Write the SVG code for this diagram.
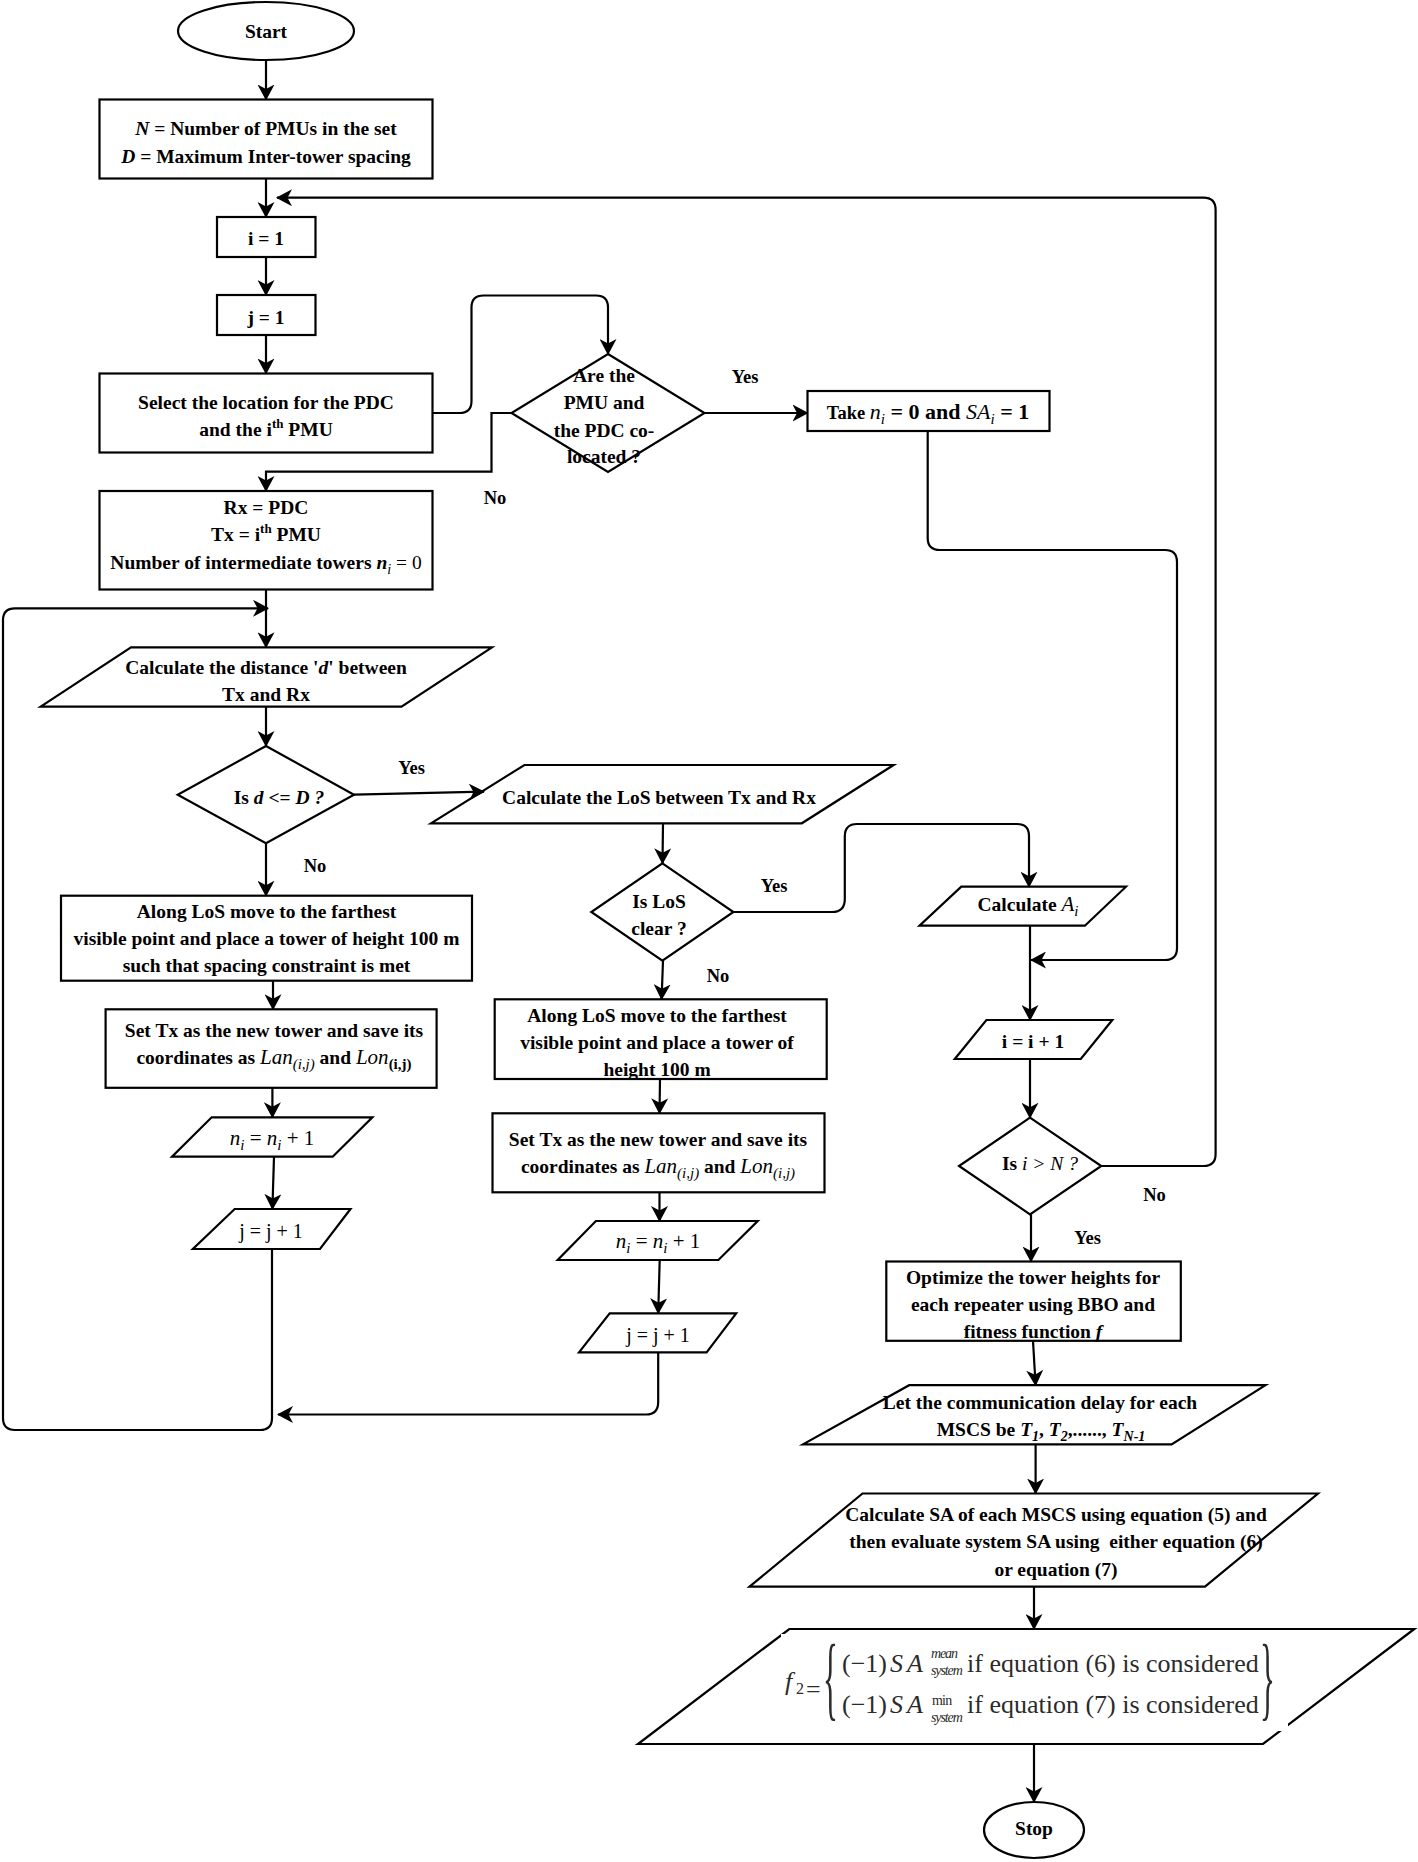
<svg xmlns="http://www.w3.org/2000/svg" width="1418" height="1862" viewBox="0 0 1418 1862">
<style>
.n{fill:#fff;stroke:#000;stroke-width:2.2}
.t{font-family:'Liberation Serif','Times New Roman',serif;font-size:19.5px;font-weight:bold;text-anchor:middle;fill:#000}
.l{font-family:'Liberation Serif','Times New Roman',serif;font-size:18.5px;font-weight:bold;text-anchor:middle;fill:#000}
.c{fill:none;stroke:#000;stroke-width:2.2;marker-end:url(#arr)}
.it{font-style:italic}
.nw{font-weight:normal}
.eq{font-family:'Liberation Serif','Times New Roman',serif;fill:#2b2b2b}
.sc{font-size:14px;font-style:italic;letter-spacing:-1.1px}
</style>
<defs>
<marker id="arr" viewBox="0 0 16 17" refX="15" refY="8.5" markerWidth="16" markerHeight="17" markerUnits="userSpaceOnUse" orient="auto">
<path d="M0,0 L16,8.5 L0,17 L4.5,8.5 Z" fill="#000"/>
</marker>
</defs>
<rect width="1418" height="1862" fill="#fff"/>

<g id="start"><ellipse class="n" cx="266" cy="31" rx="88" ry="29"/><text class="t" x="266" y="38">Start</text></g>

<g id="init"><rect class="n" x="99.5" y="99.5" width="333" height="79"/>
<text class="t" x="266" y="135"><tspan class="it">N</tspan> = Number of PMUs in the set</text>
<text class="t" x="266" y="163"><tspan class="it">D</tspan> = Maximum Inter-tower spacing</text></g>

<g id="i1"><rect class="n" x="217" y="217" width="98.5" height="40"/><text class="t" x="266" y="245">i = 1</text></g>
<g id="j1"><rect class="n" x="217" y="295" width="98.5" height="40"/><text class="t" x="266" y="324">j = 1</text></g>

<g id="select"><rect class="n" x="99.5" y="373.5" width="333" height="79"/>
<text class="t" x="266" y="409">Select the location for the PDC</text>
<text class="t" x="266" y="436">and the i<tspan dy="-8" style="font-size:13px">th</tspan><tspan dy="8"> PMU</tspan></text></g>

<g id="colocated"><polygon class="n" points="608,354 704.5,413 608,472 511.5,413"/>
<text class="t" x="604" y="382">Are the</text>
<text class="t" x="604" y="409">PMU and</text>
<text class="t" x="604" y="437">the PDC co-</text>
<text class="t" x="604" y="463">located ?</text></g>

<g id="take"><rect class="n" x="807.5" y="391" width="242" height="40"/>
<text class="t" x="928" y="419"><tspan style="font-size:18.5px">Take </tspan><tspan class="it nw" style="font-size:22px">n</tspan><tspan class="it nw" style="font-size:15px" dy="5">i</tspan><tspan style="font-size:22px" dy="-5"> = 0 and </tspan><tspan class="it nw" style="font-size:22px">SA</tspan><tspan class="it nw" style="font-size:15px" dy="5">i</tspan><tspan style="font-size:22px" dy="-5"> = 1</tspan></text></g>

<g id="rxtx"><rect class="n" x="99.5" y="491" width="333" height="98.5"/>
<text class="t" x="266" y="514">Rx = PDC</text>
<text class="t" x="266" y="541">Tx = i<tspan dy="-8" style="font-size:13px">th</tspan><tspan dy="8"> PMU</tspan></text>
<text class="t" x="266" y="569">Number of intermediate towers <tspan class="it">n</tspan><tspan class="it nw" style="font-size:14px" dy="5">i</tspan><tspan class="nw" dy="-5"> = 0</tspan></text></g>

<g id="calcd"><polygon class="n" points="131,647.3 492,647.3 401.5,706.7 40.7,706.7"/>
<text class="t" x="266" y="674">Calculate the distance '<tspan class="it">d</tspan>' between</text>
<text class="t" x="266" y="701">Tx and Rx</text></g>

<g id="isd"><polygon class="n" points="266,746 354,794.7 266,843.3 177.7,794.7"/>
<text class="t" x="279" y="804">Is <tspan class="it">d</tspan> &lt;= <tspan class="it">D ?</tspan></text></g>

<g id="los"><polygon class="n" points="524.4,765 893.6,765 801.8,823.3 431,823.3"/>
<text class="t" x="659" y="804">Calculate the LoS between Tx and Rx</text></g>

<g id="losclear"><polygon class="n" points="662.4,863.3 733.4,912 662.4,960.7 591.3,912"/>
<text class="t" x="659" y="908">Is LoS</text>
<text class="t" x="659" y="935">clear ?</text></g>

<g id="along1"><rect class="n" x="61" y="895.7" width="411" height="85"/>
<text class="t" x="266.5" y="918">Along LoS move to the farthest</text>
<text class="t" x="266.5" y="945">visible point and place a tower of height 100 m</text>
<text class="t" x="266.5" y="972">such that spacing constraint is met</text></g>

<g id="set1"><rect class="n" x="105.6" y="1009.3" width="331" height="78.5"/>
<text class="t" x="274" y="1037">Set Tx as the new tower and save its</text>
<text class="t" x="274" y="1064">coordinates as <tspan class="it nw" style="font-size:21px">Lan</tspan><tspan class="it nw" style="font-size:15px" dy="5">(i,j)</tspan><tspan dy="-5"> and </tspan><tspan class="it nw" style="font-size:21px">Lon</tspan><tspan style="font-size:15px" dy="5">(i,j)</tspan></text></g>

<g id="ni1"><polygon class="n" points="211.7,1117.3 372.4,1117.3 332.7,1156.7 172,1156.7"/>
<text class="t nw" x="272" y="1145" style="font-size:21px"><tspan class="it">n</tspan><tspan class="it" style="font-size:15px" dy="5">i</tspan><tspan dy="-5"> = </tspan><tspan class="it">n</tspan><tspan class="it" style="font-size:15px" dy="5">i</tspan><tspan dy="-5"> + 1</tspan></text></g>

<g id="jj1"><polygon class="n" points="234.7,1209 350.5,1209 320,1249 192.9,1249"/>
<text class="t nw" x="271" y="1238" style="font-size:20px">j = j + 1</text></g>

<g id="along2"><rect class="n" x="494.7" y="999.3" width="332" height="79.7"/>
<text class="t" x="657" y="1022">Along LoS move to the farthest</text>
<text class="t" x="657" y="1049">visible point and place a tower of</text>
<text class="t" x="657" y="1076">height 100 m</text></g>

<g id="set2"><rect class="n" x="492.5" y="1113.3" width="332" height="79"/>
<text class="t" x="658" y="1146">Set Tx as the new tower and save its</text>
<text class="t" x="658" y="1173">coordinates as <tspan class="it nw" style="font-size:21px">Lan</tspan><tspan class="it nw" style="font-size:15px" dy="5">(i,j)</tspan><tspan dy="-5"> and </tspan><tspan class="it nw" style="font-size:21px">Lon</tspan><tspan class="it nw" style="font-size:15px" dy="5">(i,j)</tspan></text></g>

<g id="ni2"><polygon class="n" points="595.9,1221 757.7,1221 718.4,1260 557.7,1260"/>
<text class="t nw" x="658" y="1248" style="font-size:21px"><tspan class="it">n</tspan><tspan class="it" style="font-size:15px" dy="5">i</tspan><tspan dy="-5"> = </tspan><tspan class="it">n</tspan><tspan class="it" style="font-size:15px" dy="5">i</tspan><tspan dy="-5"> + 1</tspan></text></g>

<g id="jj2"><polygon class="n" points="609.7,1313.3 736.2,1313.3 706.6,1352.3 579,1352.3"/>
<text class="t nw" x="658" y="1342" style="font-size:20px">j = j + 1</text></g>

<g id="ai"><polygon class="n" points="961.3,886.7 1126,886.7 1084.9,925.7 919.5,925.7"/>
<text class="t" x="1028" y="911">Calculate <tspan class="it nw" style="font-size:21px">A</tspan><tspan class="it nw" style="font-size:15px" dy="5">i</tspan></text></g>

<g id="iinc"><polygon class="n" points="986.4,1020 1112.3,1020 1080.8,1059 954.8,1059"/>
<text class="t" x="1033" y="1048">i = i + 1</text></g>

<g id="igtn"><polygon class="n" points="1030,1117.7 1101.3,1166 1030,1214.3 959,1166"/>
<text class="t" x="1040" y="1170">Is <tspan class="it nw">i &gt; N ?</tspan></text></g>

<g id="optimize"><rect class="n" x="886.3" y="1261.5" width="294.5" height="79.3"/>
<text class="t" x="1033" y="1284">Optimize the tower heights for</text>
<text class="t" x="1033" y="1311">each repeater using BBO and</text>
<text class="t" x="1033" y="1338">fitness function <tspan class="it">f</tspan></text></g>

<g id="delay"><polygon class="n" points="909.2,1385.2 1265.5,1385.2 1171.6,1444.4 803,1444.4"/>
<text class="t" x="1040" y="1409">Let the communication delay for each</text>
<text class="t" x="1041" y="1436">MSCS be <tspan class="it">T</tspan><tspan class="it" style="font-size:14px" dy="5">1</tspan><tspan dy="-5">, </tspan><tspan class="it">T</tspan><tspan class="it" style="font-size:14px" dy="5">2</tspan><tspan dy="-5">,......, </tspan><tspan class="it">T</tspan><tspan class="it" style="font-size:14px" dy="5">N-1</tspan></text></g>

<g id="sa"><polygon class="n" points="862.5,1493.5 1318,1493.5 1205,1586.7 749.5,1586.7"/>
<text class="t" x="1056" y="1521">Calculate SA of each MSCS using equation (5) and</text>
<text class="t" x="1056" y="1548">then evaluate system SA using&#160; either equation (6)</text>
<text class="t" x="1056" y="1576">or equation (7)</text></g>

<g id="f2"><polygon class="n" points="789.3,1629 1414.3,1629 1263,1744 638,1744"/>
<rect x="781" y="1634" width="507" height="97" fill="#fff"/>
<text class="eq" x="785" y="1690" style="font-size:26px;font-style:italic">f</text>
<text class="eq" x="796" y="1694" style="font-size:16px">2</text>
<text class="eq" x="806" y="1698" style="font-size:26px">=</text>
<text class="eq" transform="translate(823,1709) scale(0.33,1)" style="font-size:94px">{</text>
<text class="eq" x="842" y="1672" style="font-size:26px">(−1)</text>
<text class="eq" y="1672" style="font-size:26px;font-style:italic"><tspan x="890">S</tspan><tspan x="907">A</tspan></text>
<text class="eq sc" x="931" y="1658">mean</text>
<text class="eq sc" x="931" y="1675">system</text>
<text class="eq" x="967" y="1672" style="font-size:26px">if equation (6) is considered</text>
<text class="eq" x="842" y="1713" style="font-size:26px">(−1)</text>
<text class="eq" y="1713" style="font-size:26px;font-style:italic"><tspan x="890">S</tspan><tspan x="907">A</tspan></text>
<text class="eq" x="932" y="1705" style="font-size:14px;letter-spacing:-0.8px">min</text>
<text class="eq sc" x="931" y="1722">system</text>
<text class="eq" x="967" y="1713" style="font-size:26px">if equation (7) is considered</text>
<text class="eq" transform="translate(1260,1709) scale(0.33,1)" style="font-size:94px">}</text></g>

<g id="stop"><ellipse class="n" cx="1034" cy="1830" rx="50" ry="28"/><text class="t" x="1034" y="1835">Stop</text></g>

<g id="labels">
<text class="l" x="745" y="383">Yes</text>
<text class="l" x="495" y="504">No</text>
<text class="l" x="411.5" y="774">Yes</text>
<text class="l" x="315" y="872">No</text>
<text class="l" x="774" y="892">Yes</text>
<text class="l" x="718" y="982">No</text>
<text class="l" x="1154.5" y="1201">No</text>
<text class="l" x="1087.6" y="1244">Yes</text>
</g>

<g id="connectors">
<path class="c" d="M266,60.5 V99.5"/>
<path class="c" d="M266,178.5 V217"/>
<path class="c" d="M266,257 V295"/>
<path class="c" d="M266,335 V373.5"/>
<path class="c" d="M432.5,413 H459.5 Q471.5,413 471.5,401 V307.5 Q471.5,295.5 483.5,295.5 H596 Q608,295.5 608,307.5 V354"/>
<path class="c" d="M704.5,413 H807.5"/>
<path class="c" d="M511.5,413 H491.5 V471.7 H266 V491"/>
<path class="c" d="M266,589.5 V647.3"/>
<path class="c" d="M272,1249 V1418 Q272,1430 260,1430 H15 Q3,1430 3,1418 V620 Q3,608.3 15,608.3 H268"/>
<path class="c" d="M266,706.7 V746"/>
<path class="c" d="M354,794.7 L484,791.7"/>
<path class="c" d="M266,843.3 V895.7"/>
<path class="c" d="M273,980.7 V1009.3"/>
<path class="c" d="M272.4,1087.7 V1117.3"/>
<path class="c" d="M274,1156.7 L272.4,1209"/>
<path class="c" d="M663,823.3 L662.5,863.3"/>
<path class="c" d="M733.4,912 H832 Q844.8,912 844.8,899 V836.5 Q844.8,824 857,824 H1017 Q1029,824 1029,836 V886.7"/>
<path class="c" d="M663,960.7 L661.6,999.3"/>
<path class="c" d="M660,1079 L659.5,1113.3"/>
<path class="c" d="M659.5,1192.3 V1221"/>
<path class="c" d="M659.7,1260 L658.2,1313.3"/>
<path class="c" d="M658.2,1352.3 V1402 Q658.2,1414.5 646,1414.5 H278"/>
<path class="c" d="M927.7,431 V538 Q927.7,550 940,550 H1165 Q1177,550 1177,562 V948 Q1177,960 1165,960 H1031"/>
<path class="c" d="M1030,925.7 V1020"/>
<path class="c" d="M1030,1059 V1117.7"/>
<path class="c" d="M1101.3,1166 H1203.5 Q1215.6,1166 1215.6,1154 V210 Q1215.6,197.7 1203.5,197.7 H277"/>
<path class="c" d="M1031,1214.3 V1261.5"/>
<path class="c" d="M1033,1340.8 L1035.6,1385.2"/>
<path class="c" d="M1035.6,1444.4 V1493.5"/>
<path class="c" d="M1034,1586.7 V1629"/>
<path class="c" d="M1034,1744 V1802"/>
</g>
</svg>
